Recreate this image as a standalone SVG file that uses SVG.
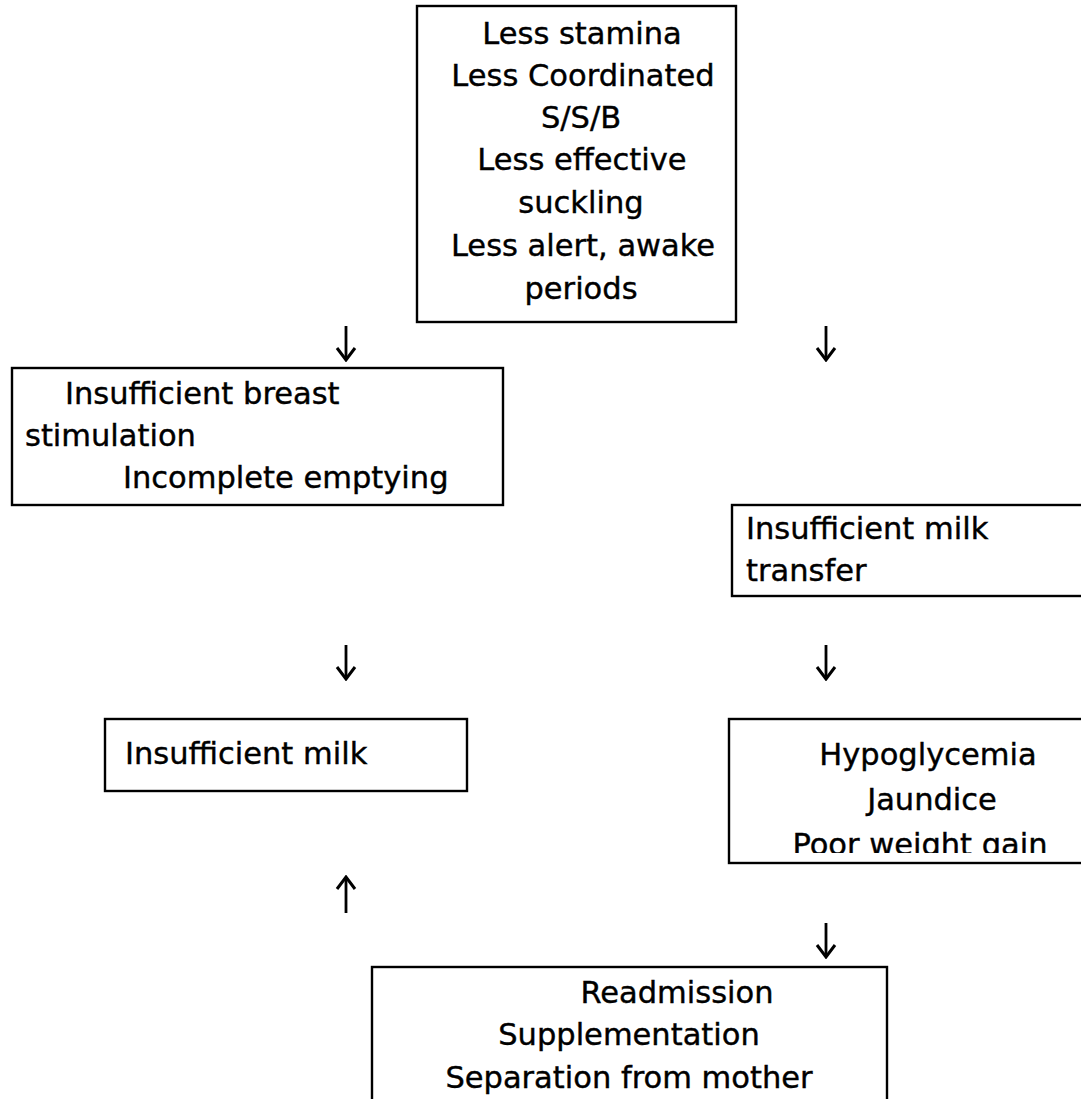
<svg xmlns="http://www.w3.org/2000/svg" width="1081" height="1099" viewBox="0 0 1081 1099">
<style>
.box{fill:#fff;stroke:#000;stroke-width:2.4}
text{font-family:"DejaVu Sans","Liberation Sans",sans-serif;font-size:30.5px;fill:#000;stroke:#000;stroke-width:0.4}
.c{text-anchor:middle}
.arr{stroke:#000;stroke-width:2.8;fill:none}
</style>
<defs>
<marker id="ah" markerUnits="userSpaceOnUse" viewBox="-14 -11 16 22" refX="0" refY="0" markerWidth="16" markerHeight="22" orient="auto">
<path d="M-12,-9 L0,0 L-12,9" fill="none" stroke="#000" stroke-width="3"/>
</marker>
<clipPath id="hypoClip"><rect x="729" y="719" width="360" height="134"/></clipPath>
</defs>
<rect width="1081" height="1099" fill="#fff"/>
<g id="node-top">
<rect class="box" x="417" y="6" width="319" height="316"/>
<text class="c" x="582" y="44">Less stamina</text>
<text class="c" x="583" y="86">Less Coordinated</text>
<text class="c" x="581" y="128">S/S/B</text>
<text class="c" x="582" y="170">Less effective</text>
<text class="c" x="581" y="213">suckling</text>
<text class="c" x="583" y="256">Less alert, awake</text>
<text class="c" x="581" y="299">periods</text>
</g>
<g id="node-breast">
<rect class="box" x="12" y="368" width="491" height="137"/>
<text x="65" y="404">Insufficient breast</text>
<text x="25" y="446">stimulation</text>
<text x="123" y="488">Incomplete emptying</text>
</g>
<g id="node-transfer">
<rect class="box" x="732" y="505" width="360" height="91"/>
<text x="746" y="539">Insufficient milk</text>
<text x="746" y="581">transfer</text>
</g>
<g id="node-milk">
<rect class="box" x="105" y="719" width="362" height="72"/>
<text x="125" y="764">Insufficient milk</text>
</g>
<g id="node-hypo">
<rect class="box" x="729" y="719" width="360" height="144"/>
<g clip-path="url(#hypoClip)">
<text class="c" x="928" y="765">Hypoglycemia</text>
<text class="c" x="932" y="810">Jaundice</text>
<text class="c" x="920" y="855">Poor weight gain</text>
</g>
</g>
<g id="node-outcome">
<rect class="box" x="372" y="967" width="515" height="150"/>
<text class="c" x="677" y="1003">Readmission</text>
<text class="c" x="629" y="1045">Supplementation</text>
<text class="c" x="629" y="1088">Separation from mother</text>
</g>
<g id="connectors">
<line class="arr" x1="346" y1="326" x2="346" y2="360" marker-end="url(#ah)"/>
<line class="arr" x1="826" y1="326" x2="826" y2="360" marker-end="url(#ah)"/>
<line class="arr" x1="346" y1="645" x2="346" y2="679" marker-end="url(#ah)"/>
<line class="arr" x1="826" y1="645" x2="826" y2="679" marker-end="url(#ah)"/>
<line class="arr" x1="346" y1="913" x2="346" y2="877" marker-end="url(#ah)"/>
<line class="arr" x1="826" y1="923" x2="826" y2="957" marker-end="url(#ah)"/>
</g>
</svg>
